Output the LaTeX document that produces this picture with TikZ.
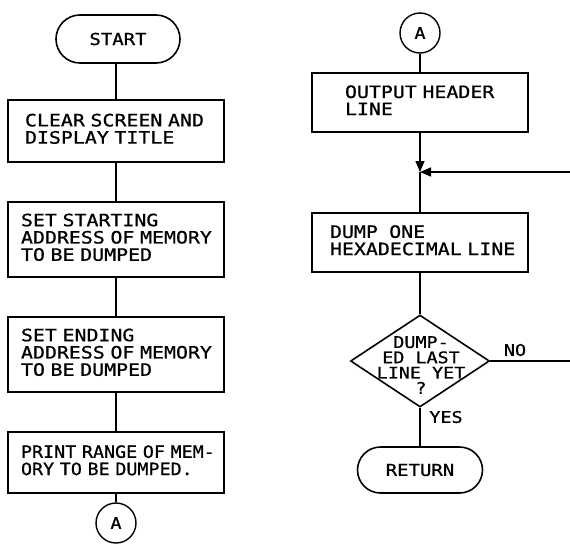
\documentclass[tikz,border=0pt]{standalone}
\usepackage{fontspec}
\newfontfamily\lr[FakeStretch=1.15,FakeBold=0.8]{DejaVu Sans Mono}
\newfontfamily\lrw[FakeStretch=1.17,FakeBold=0.8]{DejaVu Sans Mono}
\newfontfamily\lrn[FakeStretch=1.08,FakeBold=0.8]{DejaVu Sans Mono}
\newcommand\boxtext[2]{\begin{tabular}{@{\hspace{#1}}l@{}}#2\end{tabular}}
\usetikzlibrary{shapes.misc,shapes.geometric,arrows.meta}
\begin{document}
\begin{tikzpicture}[x=1pt,y=-1pt,
  every node/.style={font=\lr\fontsize{16}{15.5}\selectfont},
  procbox/.style={draw, line width=1.6pt, minimum width=216pt, text width=216pt,
    inner xsep=0pt, inner ysep=0pt, align=left,
    font=\lrw\fontsize{17}{15.5}\selectfont},
  term/.style={draw, line width=1.6pt, rounded rectangle, inner sep=0pt,
    font=\lr\fontsize{16.5}{15.5}\selectfont},
  conn/.style={draw, line width=1.4pt, circle, inner sep=0pt, minimum size=40pt},
  link/.style={line width=1.4pt},
  arr/.style={line width=1.4pt, -{Triangle[length=11pt,width=9pt]}},
  lbl/.style={inner sep=0pt}
]
\useasboundingbox (0,0) rectangle (570,544);
% left column
\node[term, minimum width=124pt, minimum height=48pt] (start) at (118,39) {START};
\node[procbox, minimum height=62pt] (b1) at (116,131)
  {\boxtext{17pt}{CLEAR SCREEN AND\\DISPLAY TITLE}};
\node[procbox, minimum height=75pt] (b2) at (116,239.5)
  {\boxtext{13pt}{SET STARTING\\ADDRESS OF MEMORY\\TO BE DUMPED}};
\node[procbox, minimum height=75pt] (b3) at (116,354.5)
  {\boxtext{13pt}{SET ENDING\\ADDRESS OF MEMORY\\TO BE DUMPED}};
\node[procbox, minimum height=61pt,
  font=\lrn\fontsize{17}{15.5}\selectfont] (b4) at (116,462.5)
  {\boxtext{13pt}{PRINT RANGE OF MEM-\\ORY TO BE DUMPED.}};
\node[conn] (a1) at (116,523) {A};
\draw[link] (start.south -| b1.north) -- (b1.north);
\draw[link] (b1) -- (b2);
\draw[link] (b2) -- (b3);
\draw[link] (b3) -- (b4);
\draw[link] (b4) -- (a1);
% right column
\node[conn] (a2) at (420,33) {A};
\node[procbox, minimum height=59pt] (o1) at (420,102.5)
  {\boxtext{33pt}{OUTPUT HEADER\\LINE}};
\coordinate (j) at (420,172);
\node[procbox, minimum height=59pt] (o2) at (420,242.5)
  {\boxtext{18pt}{DUMP\ \ ONE\\HEXADECIMAL LINE}};
\node[diamond, draw, line width=1.6pt, minimum width=139pt, minimum height=92pt, inner sep=0pt] (dec) at (420,361) {};
\node[align=center, inner sep=0pt, font=\lr\fontsize{16}{15.3}\selectfont] (dect) at (421,365)
  {DUMP-\\ED LAST\\LINE YET\\?};
\node[term, minimum width=125pt, minimum height=46pt] (ret) at (420,470) {RETURN};
\coordinate (r1) at (570,172);
\coordinate (r2) at (570,361);
\draw[link] (a2) -- (o1);
\draw[arr] (o1) -- (j);
\draw[arr] (r1) -- (j);
\draw[link] (j) -- (o2);
\draw[link] (o2) -- (dec);
\draw[link] (dec) -- (ret);
\draw[link] (dec.east) -- (r2);
\node[lbl] (yes) at (446,417) {YES};
\node[lbl] (no) at (515,350) {NO};
\end{tikzpicture}
\end{document}
